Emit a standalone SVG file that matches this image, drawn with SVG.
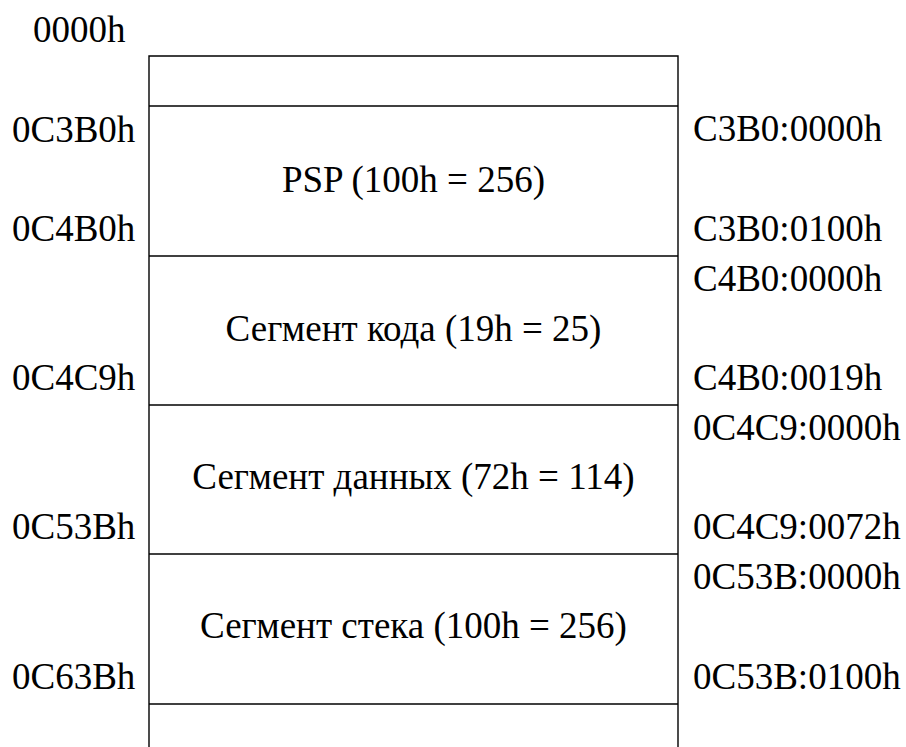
<svg xmlns="http://www.w3.org/2000/svg" width="906" height="747" viewBox="0 0 906 747">
<style>
.t{font-family:'Liberation Serif','Times New Roman',Times,'DejaVu Serif',serif;font-size:37px;fill:#000}
.c{text-anchor:middle}
.ln{stroke:#000;stroke-width:1.4;fill:none}
</style>
<rect width="906" height="747" fill="#fff"/>
<g id="frame">
<path class="ln" d="M149,747 V56 H678 V747"/>
</g>
<g id="connectors">
<line class="ln" x1="149" y1="106" x2="678" y2="106"/>
<line class="ln" x1="149" y1="256" x2="678" y2="256"/>
<line class="ln" x1="149" y1="405" x2="678" y2="405"/>
<line class="ln" x1="149" y1="554" x2="678" y2="554"/>
<line class="ln" x1="149" y1="704" x2="678" y2="704"/>
</g>
<g class="t" font-family="Liberation Serif, serif">
<g id="seg-psp"><text class="c" x="413.5" y="192">PSP (100h = 256)</text></g>
<g id="seg-code"><text class="c" x="413.5" y="341">Сегмент кода (19h = 25)</text></g>
<g id="seg-data"><text class="c" x="413.5" y="489">Сегмент данных (72h = 114)</text></g>
<g id="seg-stack"><text class="c" x="413.5" y="638">Сегмент стека (100h = 256)</text></g>
<g id="left-labels">
<text x="33" y="42">0000h</text>
<text x="12" y="142">0C3B0h</text>
<text x="12" y="241">0C4B0h</text>
<text x="12" y="390">0C4C9h</text>
<text x="12" y="539">0C53Bh</text>
<text x="12" y="689">0C63Bh</text>
</g>
<g id="right-labels">
<text x="693" y="141">C3B0:0000h</text>
<text x="693" y="241">C3B0:0100h</text>
<text x="693" y="291">C4B0:0000h</text>
<text x="693" y="390">C4B0:0019h</text>
<text x="693" y="440">0C4C9:0000h</text>
<text x="693" y="539">0C4C9:0072h</text>
<text x="693" y="589">0C53B:0000h</text>
<text x="693" y="689">0C53B:0100h</text>
</g>
</g>
</svg>
